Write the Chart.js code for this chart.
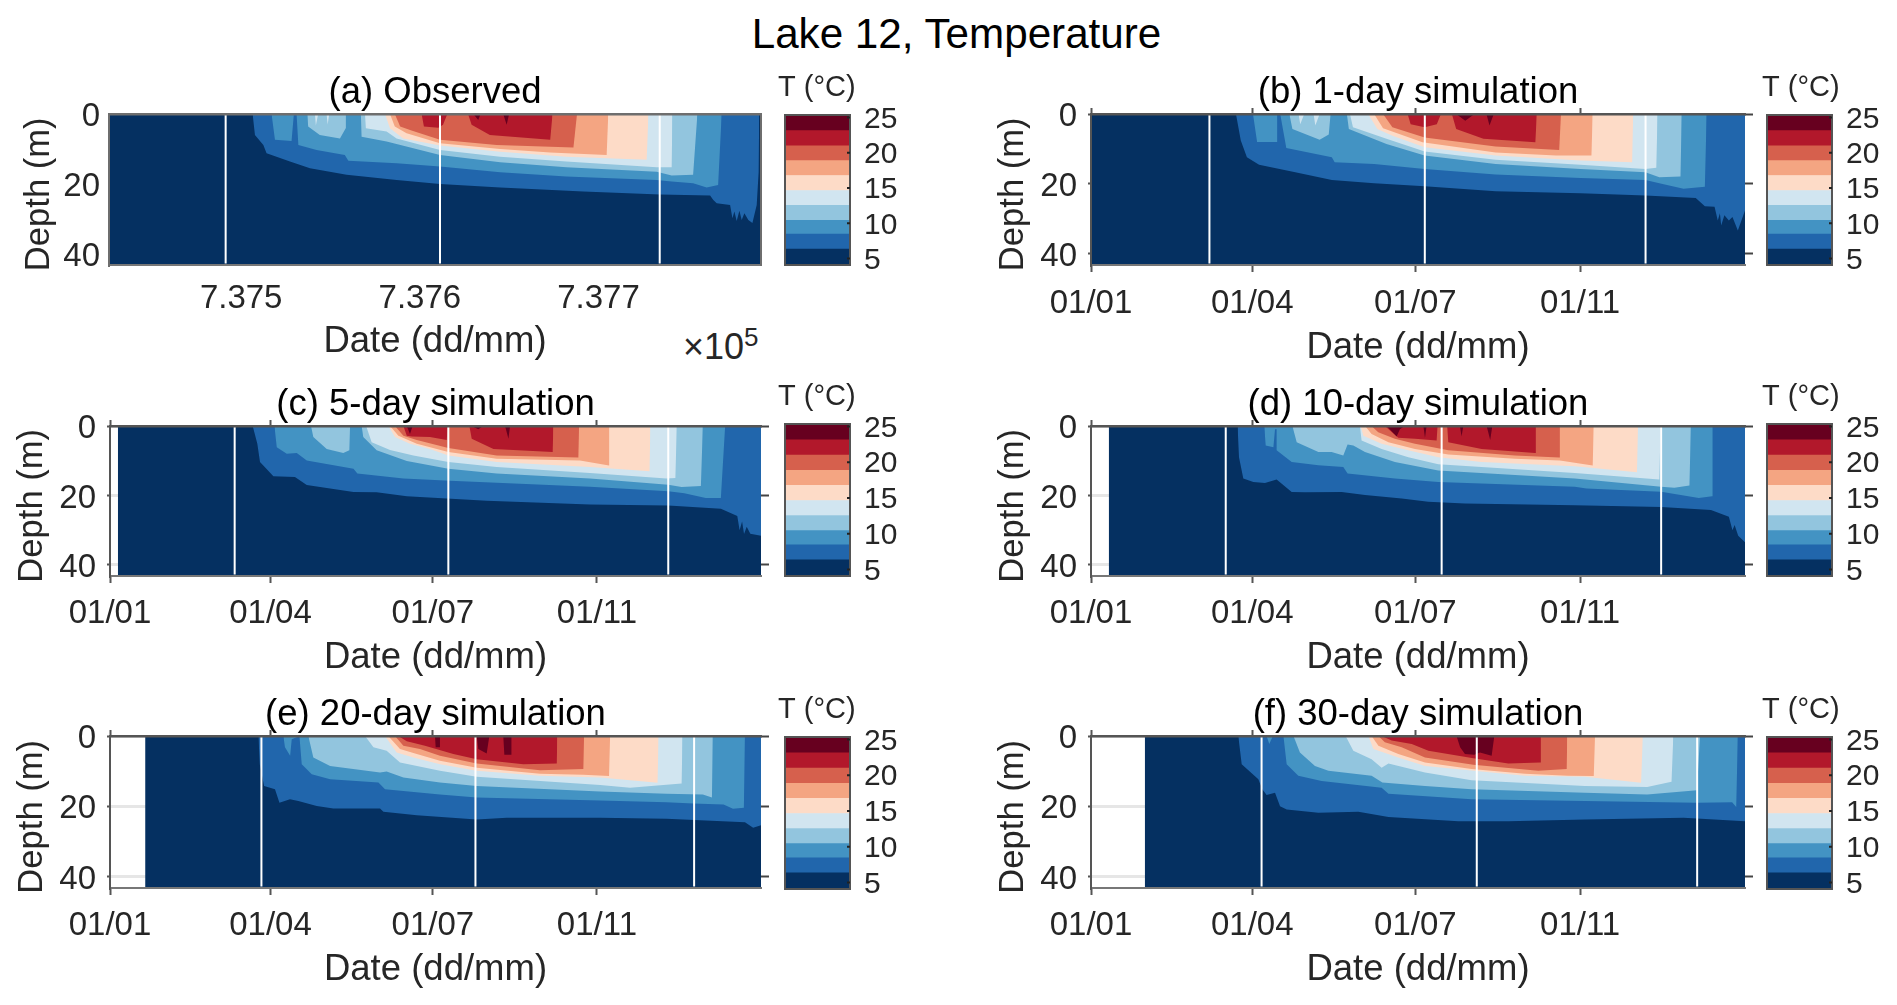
<!DOCTYPE html>
<html>
<head>
<meta charset="utf-8">
<title>Lake 12, Temperature</title>
<script src="https://cdn.jsdelivr.net/npm/chart.js@4"></script>
<style>
html,body{margin:0;padding:0;background:#fff;overflow:hidden;width:1897px;height:1005px}
canvas{position:absolute}
.txt{position:absolute;font-family:"Liberation Sans",Arial,sans-serif;color:#000;white-space:nowrap}
</style>
</head>
<body>
<div class="txt" style="left:0;width:1913px;top:10px;text-align:center;font-size:42.2px;line-height:48px">Lake 12, Temperature</div>
<div class="txt" style="left:683px;top:328px;font-size:36px;line-height:38px;color:#262626">&times;10<sup style="font-size:26px;line-height:0">5</sup></div>
<script>
// colour bands, coolest first
const bandColors = ['#053061','#2166ac','#4393c3','#92c5de','#d1e5f0','#fddbc7','#f4a582','#d6604d','#b2182b','#67001f'];
const barEdges = [4.08,6.34,8.45,10.42,12.54,14.65,16.77,18.87,20.99,23.14,25.35];
const barTicks = [5,10,15,20,25];
const depthTicks = [0,20,40];
const maxDepth = 43.2;
const lastDay = 365;
const obsTickDays = [74,174,274];
const obsTickLabels = ['7.375','7.376','7.377'];
const simTickDays = [0,90,181,273];
const simTickLabels = ['01/01','01/04','01/07','01/11'];

// (a) observed: [day of year, depth of isotherm]
const obsStart = 0;
const obsMarks = [65.3,185.3,308.3];
const obsL1 = [[80.4,0],[81.7,6],[86.4,8.9],[88.2,11.2],[101.3,13.6],[112.5,15.5],[133,17.4],[161,18.9],[185.3,20],[219,21],[265.5,22.2],[308.5,23],[336.5,23.3],[338.3,24.6],[340.2,25.5],[347.7,26],[349,29.8],[350.1,27.9],[351.4,30.6],[352.9,27.7],[354.2,30.3],[355.7,28.4],[357.9,30.3],[360.2,31.2],[362.6,26],[363.7,16.5],[364,0]];
const obsL2 = [[91,0],[92.9,7.4],[102.2,7.7],[103.5,0],[105,0],[106,8.9],[116.2,10.3],[132,11.7],[134,13.4],[161,14.1],[185.3,15],[219,16.7],[256,17.9],[306.6,18.9],[315,19.3],[327,19.8],[334.6,21],[341,20.3],[343,0]];
const obsL3 = [[111,0],[111.5,3.6],[118,6],[129.3,7],[132.6,4],[132.6,0],[141,0],[141.4,6.5],[155.4,7.9],[185.3,11.7],[219,13.8],[256,15.2],[306.6,16.5],[315,17.6],[327,17.4],[329.4,0]];
const obsL4 = [[115.3,0],[115.8,3.3],[117.1,0],[121.8,0],[122.4,3],[123.3,0],[143.3,0],[143.8,4.1],[155.4,5],[161,7],[185.3,10.3],[219,12.2],[256,13.6],[306.6,15.2],[315,15.2],[315.4,0]];
const obsL5 = [[154.5,0],[157.3,4.1],[164.7,7],[185.3,9],[219,10.8],[256,12.2],[301,13.1],[302,0]];
const obsL6 = [[157.3,0],[160,3.6],[166.6,5.5],[185.3,8.4],[219,10],[247,11],[278.6,11.7],[279.5,0]];
const obsL7 = [[160,0],[163,3.6],[168.5,4.6],[185.3,7.4],[217,8.9],[260,9.6],[262,0]];
const obsL8 = [[175,0],[176.3,3.6],[184.3,3.9],[187,3.1],[189.4,0],[201,0],[203,3.1],[213.2,6],[247,7.4],[248.3,0]];
const obsL9 = [[204,0],[206.7,1.7],[208,0],[220.7,0],[222.6,3.1],[224,0]];

// (b) 1-day simulation
const d1Start = 0;
const d1Marks = [66.1,186.3,309.5];
const d1L1 = [[80.9,0],[83.6,7.6],[87,12.4],[93.8,14.5],[114,16.7],[134.4,18.9],[158,19.8],[186.2,20.7],[225.8,22.1],[273.2,22.7],[309.4,23.3],[337.5,24],[342.6,26.4],[348,26.5],[349.8,30.5],[351,28.4],[351.7,31.9],[353.5,29],[356,30.5],[358,29.5],[361,33.3],[365,27.6],[365,0]];
const d1L2 = [[90.4,0],[92.7,8],[103.9,8],[103.9,0],[105.6,0],[109,9.7],[134.4,12.4],[136,13.8],[158,14.3],[186.2,15.7],[225.8,17.3],[273.2,18.3],[309.4,18.9],[319,20],[330.7,21.4],[342.6,20.8],[343.6,0]];
const d1L3 = [[110.7,0],[112.4,4.3],[127.6,7.4],[132.7,5.9],[133.7,0],[142.8,0],[143.9,4.3],[164.9,8.6],[186.2,11.9],[225.8,14.3],[273.2,15.7],[309.4,16.7],[317.2,18.1],[329,17.9],[329.7,0]];
const d1L4 = [[115.8,0],[116.8,2.9],[119,0],[124.2,0],[125.2,3.3],[127.6,0],[144.5,0],[146.2,3.8],[164.9,7.1],[186.2,10.7],[225.8,13.1],[273.2,14.5],[309.4,15.7],[315.5,15.4],[316.2,0]];
const d1L5 = [[154.7,0],[159.8,4.3],[168.2,6.2],[186.2,9.5],[225.8,11.9],[273.2,13.3],[302,13.8],[302.6,0]];
const d1L6 = [[158,0],[163,4.1],[185,8.1],[225.8,11],[259.6,11.9],[279.3,11.9],[280,0]];
const d1L7 = [[163,0],[168.2,3.8],[186.2,6.7],[225.8,9.3],[261.3,10.3],[262.3,0]];
const d1L8 = [[176.7,0],[178.4,2.9],[186.2,3.8],[193,2.9],[195.3,0],[201.4,0],[203.8,4.3],[219,7.1],[248,8.1],[248.8,0]];
const d1L9 = [[203.8,0],[208.9,1.9],[214,0],[220.7,0],[222.4,3.3],[224.8,0]];

// (c) 5-day simulation
const d5Start = 4.4;
const d5Marks = [69.9,189.7,313];
const d5L1 = [[80,0],[82.6,5.1],[84.1,10.4],[91.6,14.5],[103.7,14.7],[110.3,17],[123.4,18],[136.5,19],[149.5,19.1],[166.4,20.2],[188.8,20.9],[211.2,21.5],[269.1,22.6],[313,22.9],[342.5,23.8],[351.7,25.9],[353,30],[354.4,27.5],[355.5,31.1],[357,29],[359,31],[365,31.6],[365,0]];
const d5L2 = [[92.2,0],[93.5,6.1],[99.1,8],[104.7,7.8],[110.3,9.9],[136.5,12.3],[138.7,13.7],[164.5,15.1],[190.7,15.8],[269.1,17.5],[313,18.8],[322,19.4],[334,20.7],[342.5,20.7],[344.9,0]];
const d5L3 = [[112.7,0],[114,3.2],[121.5,6.6],[130.8,7.8],[134.2,7],[134.6,0],[141.1,0],[142,3.2],[149.5,7],[166.4,10.1],[189.7,12.3],[216.8,13.7],[269.1,15.1],[313,16.9],[320.5,17.6],[331.3,17.3],[332.4,0]];
const d5L4 = [[143.6,0],[146.7,4.7],[157,6.9],[170.1,8.5],[189.7,10.4],[216.8,11.8],[269.1,13.5],[312,15.1],[317,15],[317.8,0]];
const d5L5 = [[156.1,0],[159.8,3.2],[168.2,5.1],[179.4,6.6],[189.7,8.5],[216.8,10.4],[269.1,11.8],[302.5,13],[303,0]];
const d5L6 = [[157,0],[161.7,2.8],[172,5.1],[189.7,7.5],[216.8,9.4],[263.5,9.9],[279.8,11.4],[280,0]];
const d5L7 = [[159.8,0],[164.5,2.8],[172,4],[189.7,6.3],[216.8,8.5],[262.6,9.1],[263,0]];
const d5L8 = [[164.5,0],[166.4,2.8],[169.2,3],[179.4,3.2],[188.8,4],[189.4,0],[201.5,0],[202.8,3.7],[215,6.6],[248.2,7.5],[248.6,0]];
const d5L9 = [[166.4,0],[168.2,2.3],[169.7,0],[202.8,0],[206.5,0.9],[209.3,0],[221.5,0],[223.4,3.7],[224.3,0]];

// (d) 10-day simulation
const d10Start = 9.9;
const d10Marks = [75.2,195.7,318.2];
const d10L1 = [[81.8,0],[82.6,9],[85,15.1],[90.6,16.1],[97.1,16.4],[103.6,15.4],[112,19],[119.4,19.1],[139.9,19],[152.9,19.9],[173.4,20.9],[188.2,21.8],[208.7,22.3],[270,22.8],[318.2,23.3],[346,24.2],[356,26.1],[358,30],[359.2,28.5],[361.2,31.6],[365,33.5],[365,0]];
const d10L2 = [[96.7,0],[97.5,5.6],[101.8,6.1],[102.7,0.9],[103.6,0.9],[103.6,7],[112,10.4],[126.9,11.3],[140.8,11.8],[143.2,13.7],[169.6,15.1],[193.8,16.1],[270,17.5],[276.5,18],[318.2,18.9],[339.2,20.7],[346.6,20.2],[347,0]];
const d10L3 = [[112.4,0],[114.8,4.7],[126.9,7.5],[134.3,7.5],[140.8,8.5],[143.2,5.3],[146.4,5.6],[152.9,7.5],[169.6,10.4],[193.8,12.8],[270,15.1],[318.2,17.5],[325.6,17.8],[334,17.1],[334.8,0]];
const d10L4 = [[150.1,0],[151,4.2],[162.2,6.6],[177.1,9],[193.8,11],[218,11.8],[270,13.5],[317.2,15.4],[317.9,0]];
const d10L5 = [[150.5,0],[152,2.8],[162.2,5.1],[177,7],[193.8,9],[218,10.4],[270,11.6],[304.7,13.3],[305.3,0]];
const d10L6 = [[153,0],[156.6,2.3],[166,4.7],[180.8,6.6],[199.4,8.2],[236.6,9.4],[261.7,9.9],[280,11.4],[280.6,0]];
const d10L7 = [[156.6,0],[160.3,1.8],[169.6,3.7],[180.8,5.1],[199.4,7],[236.6,8.5],[261.3,9.1],[261.7,0]];
const d10L8 = [[164,0],[171.5,3.4],[180.8,3.7],[192.9,4.2],[193.4,0],[198.8,0],[199.4,4.7],[218,6.6],[247.8,7.8],[248.3,0]];
const d10L9 = [[165,0],[170.6,3],[172.4,0.9],[175,0],[185.5,0],[186.4,3.4],[187.3,0],[205.9,0],[206.8,3],[207.8,0],[220.8,0],[222.8,4],[224,0]];

// (e) 20-day simulation
const d20Start = 19.7;
const d20Marks = [84.9,204.9,327.5];
const d20L1 = [[83.2,0],[84,8],[86.4,14.2],[92.5,15.1],[95,19],[100.9,18],[105.6,18.5],[115.9,19.9],[125.2,20.6],[151.4,20.6],[153.3,21.5],[172,22.5],[205.6,23.7],[222.4,23.2],[274.8,23.2],[312,23.5],[356,24.5],[360.6,26.1],[365,25.4],[365,0]];
const d20L2 = [[97.2,0],[98.1,3.2],[101,5.6],[101.9,0.9],[106.2,0],[107.5,8],[113.1,10.9],[123.4,12.3],[150.5,13.2],[154.2,15.1],[185,16.6],[205.6,17.5],[274.8,18.3],[312,18.8],[327,19.2],[344,19.5],[349.3,20.7],[355.4,20.4],[356,0]];
const d20L3 = [[111.2,0],[114,6.1],[123.4,8.5],[151.4,10.4],[155.1,10.1],[164.5,11.8],[185,13.2],[205.6,14.2],[274.8,15.8],[312,16.4],[332.4,16.6],[337.5,17.5],[338,0]];
const d20L4 = [[143,0],[147.7,3.2],[155.1,4.2],[162.6,7.5],[185,9.9],[205.6,11.6],[274.8,13.9],[291.6,14.7],[320.5,13.5],[321,0]];
const d20L5 = [[154.2,0],[160.7,4.7],[170.1,6.1],[185,8],[205.6,9.9],[241.1,11.3],[274.8,11.8],[307,13.3],[307.6,0]];
const d20L6 = [[156,0],[162.6,3.7],[172,5.1],[185,7],[205.6,9],[241.1,10.7],[265.4,11],[279.8,11.4],[280.4,0]];
const d20L7 = [[159.8,0],[164.5,2.8],[173.8,3.7],[185,5.6],[205.6,7.8],[241.1,9.7],[265.4,9.4],[265.8,0]];
const d20L8 = [[161.7,0],[166.4,1.5],[176.6,2.8],[192.5,5.1],[205.6,6.6],[231.8,8],[250.5,7.8],[250.8,0]];
const d20L9 = [[182.2,0],[182.6,3.2],[184.5,3.2],[185,0],[205.6,0],[206.5,3.7],[211.2,5],[212.7,0],[220.5,0],[221.1,5.3],[224.9,5.3],[225.2,0]];

// (f) 30-day simulation
const d30Start = 30;
const d30Marks = [95.2,215.3,338.3];
const d30L1 = [[82.2,0],[84.1,8],[93.4,12.3],[95.6,15.1],[98,16.8],[102.7,16.1],[105.5,20],[109.2,20.9],[126.9,21.8],[149.2,21.5],[166,23],[205,24.2],[232.9,24.2],[275.7,23.7],[330.7,23.2],[365,24.2],[365,0]];
const d30L2 = [[98,0],[99.5,2.3],[101.5,0],[107.4,0],[109.2,8],[115.7,11.3],[128.7,12.8],[162.2,14.7],[166,16.4],[212.4,18],[275.7,18.5],[338.2,19],[357.8,18.8],[360.1,20.2],[361,0]];
const d30L3 = [[113,0],[116.6,4.7],[125,8.5],[132.5,9.9],[156.6,11.3],[162.6,13.2],[186.4,14.2],[212.4,15.1],[275.7,16.1],[310.4,16.6],[338.2,15.4],[339.9,0]];
const d30L4 = [[142.1,0],[146.4,4.2],[156.6,6.6],[162.2,9],[166,7.8],[186.4,10.4],[212.4,12.6],[275.7,14.2],[310.4,14.5],[324,13],[325,0]];
const d30L5 = [[154.8,0],[157.6,3.7],[171.5,6.1],[186.4,8.5],[212.4,9.8],[242.2,11.3],[275.7,11.6],[307,13.3],[308,0]];
const d30L6 = [[156.6,0],[160.4,2.8],[171.5,5.1],[186.4,7.5],[212.4,9.4],[242.2,10.7],[266.4,11.3],[280.6,11.4],[281.3,0]];
const d30L7 = [[160.4,0],[164,1.8],[173.4,3.2],[186.4,6.1],[213.4,8.2],[249.6,9.9],[265.5,9.4],[265.8,0]];
const d30L8 = [[162.2,0],[167.8,1.3],[179,2.3],[188.3,4.2],[213.4,6.3],[232.9,7.8],[250.6,7.5],[251.1,0]];
const d30L9 = [[204,0],[206,3.2],[208.7,5.1],[213.9,5.3],[217.1,4.7],[223.6,5.6],[225.1,0]];

const FONT = '"Liberation Sans", Arial, sans-serif';
const INK = '#262626';
Chart.defaults.font.family = FONT;
Chart.defaults.animation = false;

function setTicks(values) {
  return function (scale) { scale.ticks = values.map(v => ({ value: v })); };
}

function fixSize(prop, size) {
  return function (scale) { scale[prop] = size; };
}

function panel(o) {
  const cv = document.createElement('canvas');
  const leftW = o.plotX - o.canvasX;
  const W = leftW + o.plotW + 8, H = 44 + o.plotH + o.xH;
  cv.width = W; cv.height = H;
  cv.style.left = o.canvasX + 'px';
  cv.style.top = (o.plotY - 44) + 'px';
  document.body.appendChild(cv);

  // painter order: deep water, then warmer and warmer layers, then white marks
  const sets = [{ data: [[o.start, maxDepth], [lastDay, maxDepth]], backgroundColor: bandColors[0], fill: { value: 0 } }];
  o.levels.forEach((pts, i) => sets.push({ data: pts, backgroundColor: bandColors[i + 1], fill: { value: 0 } }));
  o.marks.forEach(m => sets.push({ data: [[m, 0.2], [m, maxDepth - 0.4]], borderColor: '#fff', borderWidth: 2, fill: false }));
  sets.forEach(s => { s.pointRadius = 0; s.tension = 0; if (!s.borderWidth) s.borderWidth = 0; });
  sets.reverse();

  const tickDays = o.obs ? obsTickDays : simTickDays;
  const tickLabels = o.obs ? obsTickLabels : simTickLabels;
  const edge = o.obs ? '#6e6e6e' : '#555';

  new Chart(cv, {
    type: 'line',
    data: { datasets: sets },
    options: {
      responsive: false,
      devicePixelRatio: 1,
      layout: { padding: 0 },
      plugins: {
        legend: { display: false },
        tooltip: { enabled: false },
        title: { display: true, text: o.title, fullSize: false, color: '#000', padding: { top: 1, bottom: 0 }, font: { size: 36.5, weight: 'normal', lineHeight: '43px' } }
      },
      scales: {
        x: {
          type: 'linear', position: 'bottom', min: 0, max: lastDay,
          afterBuildTicks: setTicks(tickDays),
          afterFit: fixSize('height', o.xH),
          grid: { drawOnChartArea: false, drawTicks: !o.obs, tickLength: 7, tickColor: '#555', tickWidth: 2 },
          border: { color: '#777', width: 2, z: 1 },
          ticks: { autoSkip: false, maxRotation: 0, color: INK, padding: o.tickPad, font: { size: 33 }, callback: v => tickLabels[tickDays.indexOf(v)] },
          title: { display: true, text: 'Date (dd/mm)', color: INK, padding: 0, font: { size: 36.5 } }
        },
        x2: {
          type: 'linear', axis: 'x', position: 'top', min: 0, max: lastDay,
          afterBuildTicks: setTicks(tickDays),
          afterFit: fixSize('height', 0),
          grid: { drawOnChartArea: false, drawTicks: !o.obs, tickLength: 6, tickColor: '#555', tickWidth: 2 },
          border: { color: edge, width: 2.5, z: 1 },
          ticks: { display: false }
        },
        y: {
          type: 'linear', position: 'left', reverse: true, min: 0, max: maxDepth,
          afterBuildTicks: setTicks(depthTicks),
          afterFit: fixSize('width', leftW),
          grid: { color: '#e6e6e6', lineWidth: 3, drawTicks: !o.obs, tickLength: 3, tickColor: '#555', tickWidth: 2 },
          border: { color: edge, width: 2, z: 1 },
          ticks: { autoSkip: false, color: INK, padding: o.obs ? 9 : 11, labelOffset: 3, font: { size: 33 } },
          title: { display: true, text: 'Depth (m) ', color: INK, padding: { top: o.obs ? 19 : 12, bottom: 0 }, font: { size: 34.6 } }
        },
        y2: {
          type: 'linear', axis: 'y', position: 'right', reverse: true, min: 0, max: maxDepth,
          afterBuildTicks: setTicks(depthTicks),
          afterFit: fixSize('width', 8),
          grid: { drawOnChartArea: false, drawTicks: !o.obs, tickLength: 8, tickColor: '#444', tickWidth: 2 },
          border: { display: !!o.obs, color: edge, width: 2, z: 1 },
          ticks: { display: false }
        }
      }
    }
  });
}

const barFrame = {
  id: 'barFrame',
  afterDraw(chart) {
    const a = chart.chartArea, ctx = chart.ctx, y = chart.scales.y;
    ctx.save();
    ctx.strokeStyle = '#555';
    ctx.lineWidth = 2;
    ctx.strokeRect(a.left, a.top, a.right - a.left, a.bottom - a.top);
    ctx.strokeStyle = '#222';
    ctx.beginPath();
    y.ticks.forEach(t => {
      const p = y.getPixelForValue(t.value);
      ctx.moveTo(a.right - 3, p);
      ctx.lineTo(a.right, p);
    });
    ctx.stroke();
    ctx.restore();
  }
};

function colorbar(x, y, h, lead) {
  const cv = document.createElement('canvas');
  const top = 44;
  cv.width = lead + 65 + 62; cv.height = top + h + 31;
  cv.style.left = (x - lead) + 'px';
  cv.style.top = (y - top) + 'px';
  document.body.appendChild(cv);
  const sets = bandColors.map((c, i) => ({ data: [[barEdges[i], barEdges[i + 1]]], backgroundColor: c, borderWidth: 0, barPercentage: 1, categoryPercentage: 1 }));
  new Chart(cv, {
    type: 'bar',
    data: { labels: ['T'], datasets: sets },
    options: {
      responsive: false,
      devicePixelRatio: 1,
      layout: { padding: { bottom: 22 } },
      plugins: {
        legend: { display: false },
        tooltip: { enabled: false },
        // full width title, otherwise it gets squeezed into the bar width
        title: { display: true, text: 'T (\u00b0C)', fullSize: true, align: 'start', color: INK, padding: { top: 0, bottom: 10 }, font: { size: 29, weight: 'normal', lineHeight: '34px' } }
      },
      scales: {
        x: { display: false, stacked: true },
        y: {
          position: 'right', min: barEdges[0], max: barEdges[barEdges.length - 1],
          afterBuildTicks: setTicks(barTicks),
          afterFit: fixSize('width', 62),
          grid: { display: false, drawTicks: false },
          border: { display: false },
          ticks: { autoSkip: false, color: INK, padding: 14, labelOffset: 2, font: { size: 30 } }
        },
        lead: {
          type: 'linear', axis: 'y', position: 'left',
          afterFit: fixSize('width', lead),
          grid: { display: false, drawTicks: false },
          border: { display: false },
          ticks: { display: false }
        }
      }
    },
    plugins: [barFrame]
  });
}

panel({ title: '(a) Observed', obs: true, canvasX: 0, plotX: 109, plotW: 652, plotY: 114, plotH: 151, xH: 99, tickPad: 14, start: obsStart, marks: obsMarks, levels: [obsL1, obsL2, obsL3, obsL4, obsL5, obsL6, obsL7, obsL8, obsL9] });
panel({ title: '(b) 1-day simulation', canvasX: 981, plotX: 1091, plotW: 654, plotY: 114, plotH: 151, xH: 105, tickPad: 12, start: d1Start, marks: d1Marks, levels: [d1L1, d1L2, d1L3, d1L4, d1L5, d1L6, d1L7, d1L8, d1L9] });
panel({ title: '(c) 5-day simulation', canvasX: 0, plotX: 110, plotW: 651, plotY: 426, plotH: 150, xH: 104, tickPad: 11, start: d5Start, marks: d5Marks, levels: [d5L1, d5L2, d5L3, d5L4, d5L5, d5L6, d5L7, d5L8, d5L9] });
panel({ title: '(d) 10-day simulation', canvasX: 981, plotX: 1091, plotW: 654, plotY: 426, plotH: 150, xH: 104, tickPad: 11, start: d10Start, marks: d10Marks, levels: [d10L1, d10L2, d10L3, d10L4, d10L5, d10L6, d10L7, d10L8, d10L9] });
panel({ title: '(e) 20-day simulation', canvasX: 0, plotX: 110, plotW: 651, plotY: 736, plotH: 152, xH: 104, tickPad: 11, start: d20Start, marks: d20Marks, levels: [d20L1, d20L2, d20L3, d20L4, d20L5, d20L6, d20L7, d20L8, d20L9] });
panel({ title: '(f) 30-day simulation', canvasX: 981, plotX: 1091, plotW: 654, plotY: 736, plotH: 152, xH: 104, tickPad: 11, start: d30Start, marks: d30Marks, levels: [d30L1, d30L2, d30L3, d30L4, d30L5, d30L6, d30L7, d30L8, d30L9] });

colorbar(785, 115, 151, 7);
colorbar(1767, 115, 151, 5);
colorbar(785, 424, 153, 7);
colorbar(1767, 424, 153, 5);
colorbar(785, 737, 153, 7);
colorbar(1767, 737, 153, 5);
</script>
</body>
</html>
